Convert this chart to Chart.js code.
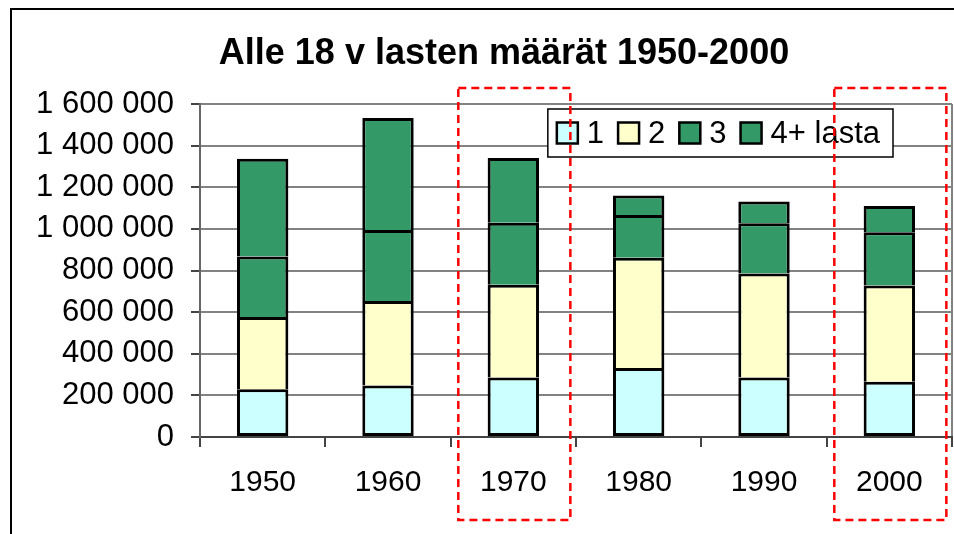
<!DOCTYPE html>
<html>
<head>
<meta charset="utf-8">
<title>Alle 18 v lasten määrät 1950-2000</title>
<script src="https://cdn.jsdelivr.net/npm/chart.js@4.4.1/dist/chart.umd.min.js"></script>
<style>
  html, body { margin: 0; padding: 0; background: #fff; overflow: hidden; }
  #frame { position: absolute; left: 10px; top: 8px; width: 2000px; height: 2000px;
           border-left: 2px solid #000; border-top: 2px solid #000; }
  #chart { position: absolute; left: 0; top: 0; }
</style>
</head>
<body>
<div id="frame"></div>
<canvas id="chart" width="954" height="534"></canvas>
<script>
// === ALLE 18 V LASTEN MÄÄRÄT 1950-2000 ===

const years        = ["1950", "1960", "1970", "1980", "1990", "2000"];
const oneChild     = [230000, 248000, 286000, 331000, 286000, 266000];
const twoChildren  = [346000, 406000, 446000, 530000, 499000, 462000];
const threeChildren= [291000, 341000, 298000, 206000, 242000, 256000];
const fourPlus     = [470000, 538000, 310000,  93000, 104000, 126000];
const seriesLabels = ["1", "2", "3", "4+ lasta"];
const yTicks       = [0, 200000, 400000, 600000, 800000, 1000000, 1200000, 1400000, 1600000];
const highlighted  = ["1970", "2000"];

const FONT     = "'Liberation Sans', Arial, sans-serif";
const GRID     = "#828282";
const COL_ONE  = "#ccffff";
const COL_TWO  = "#ffffcc";
const COL_MANY = "#339966";

const formatSpaced = (v) => String(v).replace(/\B(?=(\d{3})+(?!\d))/g, " ");

// title sits a bit right of the canvas centre in the original
const titleShift = {
  id: "titleShift",
  afterLayout(chart) {
    chart.titleBlock.left = 56;
  },
};

// legend drawn inside the plot area with a frame, like the original
const boxLegend = {
  id: "boxLegend",
  afterDatasetsDraw(chart) {
    const { ctx, chartArea } = chart;
    const sw = 21, gapText = 9, gapItem = 14, padL = 9, padR = 13, h = 48;
    ctx.save();
    ctx.font = `31px ${FONT}`;
    const items = chart.data.datasets.map((ds) => ({
      text: ds.label, color: ds.backgroundColor, w: ctx.measureText(ds.label).width,
    }));
    let width = padL + padR;
    items.forEach((it, i) => { width += sw + gapText + it.w + (i < items.length - 1 ? gapItem : 0); });
    const right = chartArea.right - 59;
    const top   = chartArea.top + 5;
    const left  = right - width;

    ctx.fillStyle = "#fff";
    ctx.fillRect(left, top, width, h);
    ctx.strokeStyle = "#000";
    ctx.lineWidth = 1.5;
    ctx.strokeRect(left, top, width, h);

    let x = left + padL;
    const cy = top + h / 2;
    ctx.textBaseline = "middle";
    ctx.textAlign = "left";
    items.forEach((it) => {
      ctx.fillStyle = it.color;
      ctx.fillRect(x, cy - sw / 2, sw, sw);
      ctx.lineWidth = 2.5;
      ctx.strokeStyle = "#000";
      ctx.strokeRect(x, cy - sw / 2, sw, sw);
      x += sw + gapText;
      ctx.fillStyle = "#000";
      ctx.fillText(it.text, x, cy + 1);
      x += it.w + gapItem;
    });
    ctx.restore();
  },
};

// red dashed boxes round the highlighted years
const highlightBoxes = {
  id: "highlightBoxes",
  afterDraw(chart) {
    const { ctx, chartArea, scales } = chart;
    const xs   = scales.x;
    const half = (xs.width / years.length) * 0.447;
    ctx.save();
    ctx.strokeStyle = "#ff0000";
    ctx.lineWidth = 2.5;
    ctx.setLineDash([8, 5]);
    highlighted.forEach((year) => {
      const cx = xs.getPixelForValue(years.indexOf(year)) + 1;
      const top = chartArea.top - 16;
      const bottom = chartArea.bottom + 83;
      ctx.strokeRect(cx - half, top, half * 2, bottom - top);
    });
    ctx.restore();
  },
};

const makeSet = (label, data, color, first) => ({
  label,
  data,
  backgroundColor: color,
  borderColor: "#000",
  borderWidth: { top: 3, left: 3, right: 3, bottom: first ? 3 : 0 },
  borderSkipped: false,
  barPercentage: 0.41,
  categoryPercentage: 1,
});

new Chart(document.getElementById("chart"), {
  type: "bar",
  data: {
    labels: years,
    datasets: [
      makeSet(seriesLabels[0], oneChild,      COL_ONE,  true),
      makeSet(seriesLabels[1], twoChildren,   COL_TWO,  false),
      makeSet(seriesLabels[2], threeChildren, COL_MANY, false),
      makeSet(seriesLabels[3], fourPlus,      COL_MANY, false),
    ],
  },
  plugins: [titleShift, boxLegend, highlightBoxes],
  options: {
    responsive: false,
    animation: false,
    layout: { padding: { left: 20, right: 2, top: 32, bottom: 31 } },
    plugins: {
      legend: { display: false },
      tooltip: { enabled: false },
      title: {
        display: true,
        text: "Alle 18 v lasten määrät 1950-2000",
        color: "#000",
        font: { size: 36, weight: "bold", family: FONT },
        padding: { top: 0, bottom: 28.8 },
      },
    },
    scales: {
      x: {
        stacked: true,
        grid: {
          offset: true,
          drawOnChartArea: true,
          color: (c) => (c.type === "scale" ? GRID : "rgba(0,0,0,0)"),
          lineWidth: 2,
          tickLength: 10,
          tickColor: "#444",
        },
        border: { color: "#444", width: 2 },
        ticks: { color: "#000", font: { size: 30, family: FONT }, padding: 18 },
        afterFit: (s) => { s.height = 66; },
      },
      y: {
        stacked: true,
        min: 0,
        max: 1600000,
        afterBuildTicks: (s) => { s.ticks = yTicks.map((v) => ({ value: v })); },
        grid: { color: GRID, lineWidth: 2, tickLength: 9, tickColor: "#444" },
        border: { color: "#666", width: 2 },
        ticks: {
          color: "#000",
          font: { size: 31, family: FONT },
          padding: 17,
          callback: (v) => formatSpaced(v),
        },
        afterFit: (s) => { s.width = 180; },
      },
    },
  },
});
</script>
</body>
</html>
